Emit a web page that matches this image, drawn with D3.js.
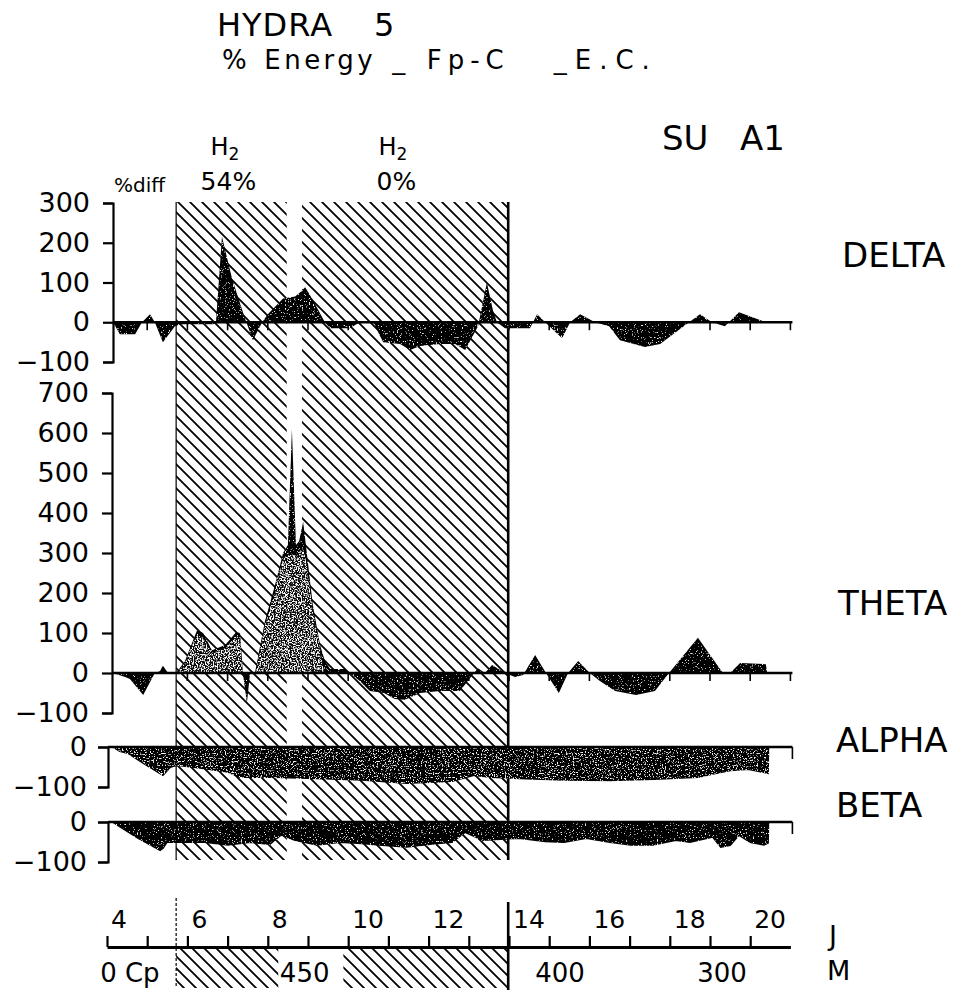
<!DOCTYPE html>
<html><head><meta charset="utf-8">
<script src="https://cdn.jsdelivr.net/npm/d3@7"></script>
<style>
body{margin:0;background:#fff}
svg{display:block}
text{font-family:"DejaVu Sans",sans-serif;fill:#000}
</style></head>
<body><svg id="c" width="961" height="1001"></svg>
<script>
// ---------------- data (days on x, % difference on y) ----------------
const deltaDays = [4.15,4.32,4.70,4.87,5.07,5.19,5.39,5.69,5.82,6.64,6.71,6.86,7.11,7.43,7.63,7.86,8.00,8.38,8.68,8.80,8.93,9.10,9.42,9.55,10.04,10.29,10.62,10.87,11.29,11.54,11.79,12.28,12.66,12.91,13.23,13.35,13.45,13.60,13.70,13.90,14.52,14.70,14.90,15.32,15.52,15.77,16.14,16.49,16.76,17.38,17.76,18.48,18.75,19.05,19.37,19.72,20.39];
const deltaValues = [0,-30,-30,0,20,0,-50,-10,-5,-5,0,215,110,10,-45,0,20,60,65,75,88,60,0,-15,-15,0,0,-50,-55,-70,-60,-55,-55,-70,-10,50,100,30,0,-15,-15,20,0,-40,0,20,0,-10,-45,-62,-55,0,20,0,-10,25,0];

const thetaDays = [4.15,4.45,4.57,4.90,5.19,5.32,5.39,5.52,5.72,5.94,6.24,6.39,6.61,6.94,7.21,7.31,7.38,7.48,7.56,7.68,7.93,8.18,8.38,8.50,8.60,8.70,8.78,8.88,8.97,9.12,9.30,9.42,9.55,9.92,10.04,10.29,10.54,10.89,11.16,11.41,11.79,12.28,12.78,13.13,13.23,13.40,13.58,13.90,14.15,14.35,14.65,14.92,15.24,15.47,15.72,16.01,16.26,16.64,17.16,17.63,17.98,18.70,19.32,19.50,19.75,20.39,20.42];
const thetaValues = [0,-10,-15,-55,0,5,18,0,0,30,107,100,57,70,102,100,0,-75,0,0,130,220,300,320,610,320,330,378,300,170,70,30,10,10,0,-20,-45,-50,-65,-67,-50,-45,-45,0,12,0,20,0,-10,-5,45,0,-50,0,30,0,-20,-45,-55,-45,0,88,0,0,25,22,0];

// stippled (grey) body of the theta peaks under H2
const thetaCoreDays = [5.74,5.94,6.24,6.39,6.61,6.94,7.21,7.31,7.36,7.70,7.93,8.18,8.38,8.53,8.68,8.80,8.88,8.95,9.12,9.30,9.40];
const thetaCoreValues = [0,25,95,88,50,62,92,88,0,0,118,205,285,295,295,305,310,280,155,60,0];

const alphaDays = [4.15,4.32,4.52,4.90,5.39,5.57,5.74,6.31,7.01,7.31,8.10,9.22,10.34,11.46,12.58,13.13,13.53,14.25,15.37,16.49,17.61,18.70,19.07,19.50,19.95,20.44,20.45];
const alphaValues = [0,-10,-15,-40,-70,-50,-45,-52,-62,-75,-75,-78,-82,-90,-85,-70,-75,-78,-82,-83,-80,-75,-67,-58,-55,-65,0];

const betaDays = [4.15,4.27,4.77,5.32,5.39,5.49,6.44,7.01,7.56,8.05,8.33,8.68,9.22,9.80,10.34,10.92,11.46,12.03,12.58,12.91,13.35,14.25,14.90,15.37,15.92,16.51,17.03,17.58,18.15,18.50,19.07,19.27,19.50,19.72,20.00,20.34,20.44,20.45];
const betaValues = [0,-8,-40,-70,-65,-50,-50,-57,-50,-55,-32,-45,-57,-50,-53,-58,-62,-55,-50,-25,-45,-40,-48,-50,-40,-50,-57,-57,-45,-50,-37,-62,-58,-32,-50,-57,-52,0];

const h2Periods = [[5.72, 8.47], [8.85, 13.98]];
const h2Labels = [{day: 7.02, sub: "54%"}, {day: 11.2, sub: "0%"}];

const deltaTicks = [300, 200, 100, 0, -100];
const thetaTicks = [700, 600, 500, 400, 300, 200, 100, 0, -100];
const bandTicks = [0, -100];
const dayTicks = d3.range(4, 21);
const dayLabels = [4, 6, 8, 10, 12, 14, 16, 18, 20];
const depthLabels = [{day: 3.83, text: "0 Cp"}, {day: 8.30, text: "450"}, {day: 14.65, text: "400"}, {day: 18.68, text: "300"}];
const subtitleParts = ["%", "Energy", "_", "Fp-C", "_E.C."];

// ---------------- scales ----------------
const x = d3.scaleLinear([4, 21], [107, 790.4]);
const yDelta = d3.scaleLinear([-100, 300], [362, 203]);
const yTheta = d3.scaleLinear([-100, 700], [713, 393]);
const yAlpha = d3.scaleLinear([-100, 0], [787, 747]);
const yBeta  = d3.scaleLinear([-100, 0], [862, 822]);

const svg = d3.select("#c");
const defs = svg.append("defs");
const pat = defs.append("pattern").attr("id", "hatch").attr("patternUnits", "userSpaceOnUse")
  .attr("width", 12).attr("height", 12);
pat.append("path").attr("d", "M-3,-3 L15,15 M-3,9 L3,15 M9,-3 L15,3")
  .attr("stroke", "#000").attr("stroke-width", 1.8).attr("fill", "none");

function stipple(id, k, b, seed) {
  const f = defs.append("filter").attr("id", id);
  f.append("feTurbulence").attr("type", "fractalNoise").attr("baseFrequency", 0.75)
    .attr("numOctaves", 2).attr("seed", seed).attr("result", "n");
  f.append("feColorMatrix").attr("in", "n").attr("type", "matrix")
    .attr("values", `0 0 0 0 1  0 0 0 0 1  0 0 0 0 1  ${k} 0 0 0 ${b}`).attr("result", "w");
  f.append("feComposite").attr("in", "w").attr("in2", "SourceAlpha").attr("operator", "in").attr("result", "wi");
  const m = f.append("feMerge");
  m.append("feMergeNode").attr("in", "SourceGraphic");
  m.append("feMergeNode").attr("in", "wi");
}
stipple("stLight", 7, -3.4, 3);
stipple("stDark", 7, -4.1, 5);
stipple("stFaint", 7, -4.5, 9);

// ---------------- hatched H2 periods ----------------
const hatchTop = 202, hatchBottom = 860;
svg.append("g").selectAll("rect").data(h2Periods).join("rect")
  .attr("x", d => x(d[0])).attr("width", d => x(d[1]) - x(d[0]))
  .attr("y", hatchTop).attr("height", hatchBottom - hatchTop)
  .attr("fill", "url(#hatch)");
const startX = x(h2Periods[0][0]), endX = x(h2Periods[1][1]);
svg.append("line").attr("x1", startX).attr("x2", startX).attr("y1", hatchTop).attr("y2", hatchBottom)
  .attr("stroke", "#000").attr("stroke-width", 1.2);
svg.append("line").attr("x1", endX).attr("x2", endX).attr("y1", hatchTop).attr("y2", hatchBottom)
  .attr("stroke", "#000").attr("stroke-width", 2.6);

// ---------------- areas ----------------
function areaPath(days, vals, y) {
  const pts = days.map((d, i) => ({d, v: vals[i]}));
  return d3.area().x(p => x(p.d)).y0(y(0)).y1(p => y(p.v))(pts);
}
svg.append("path").attr("d", areaPath(deltaDays, deltaValues, yDelta)).attr("fill", "#000")
  .attr("filter", "url(#stFaint)");
svg.append("path").attr("d", areaPath(thetaDays, thetaValues, yTheta)).attr("fill", "#000")
  .attr("filter", "url(#stFaint)");
svg.append("path").attr("d", areaPath(thetaCoreDays, thetaCoreValues, yTheta)).attr("fill", "#111")
  .attr("filter", "url(#stLight)");
svg.append("path").attr("d", areaPath(alphaDays, alphaValues, yAlpha)).attr("fill", "#000")
  .attr("stroke", "#000").attr("stroke-width", 2).attr("filter", "url(#stDark)");
svg.append("path").attr("d", areaPath(betaDays, betaValues, yBeta)).attr("fill", "#000")
  .attr("stroke", "#000").attr("stroke-width", 2).attr("filter", "url(#stFaint)");

// ---------------- y axes ----------------
function yAxis(y, ticks, ax, pad) {
  const g = svg.append("g").attr("transform", `translate(${ax},0)`)
    .call(d3.axisLeft(y).tickValues(ticks).tickSize(10).tickPadding(pad).tickFormat(d => d === 0 ? "0" : (d < 0 ? "\u2212" + (-d) : d)));
  g.attr("font-family", null).attr("font-size", null);
  g.selectAll("path,line").attr("stroke", "#000").attr("stroke-width", 2.2);
  g.selectAll("text").attr("font-size", 27).attr("font-family", "DejaVu Sans").attr("fill", "#000");
}
yAxis(yDelta, deltaTicks, 113, 13);
yAxis(yTheta, thetaTicks, 112, 13);
yAxis(yAlpha, bandTicks, 108, 11);
yAxis(yBeta, bandTicks, 108, 11);

// ---------------- zero lines with day ticks ----------------
function zeroLine(y, ax, ticks, tl) {
  const g = svg.append("g");
  g.append("line").attr("x1", ax).attr("x2", x(21.05)).attr("y1", y(0)).attr("y2", y(0))
    .attr("stroke", "#000").attr("stroke-width", 2.4);
  g.selectAll("line.t").data(ticks).join("line").attr("class", "t")
    .attr("x1", d => x(d)).attr("x2", d => x(d)).attr("y1", y(0)).attr("y2", y(0) + tl)
    .attr("stroke", "#000").attr("stroke-width", 1.6);
}
zeroLine(yDelta, 113, d3.range(5, 22), 8);
zeroLine(yTheta, 112, d3.range(5, 22), 8);
zeroLine(yAlpha, 108, [21.05], 12);
zeroLine(yBeta, 108, [21.05], 12);

// ---------------- bottom time / depth axis ----------------
const axY = 947;
svg.append("rect").attr("x", startX).attr("width", endX - startX).attr("y", axY + 1).attr("height", 40)
  .attr("fill", "url(#hatch)");
svg.append("rect").attr("x", x(8.26)).attr("width", x(9.88) - x(8.26)).attr("y", axY + 2).attr("height", 40)
  .attr("fill", "#fff");
const bax = svg.append("g").attr("transform", `translate(0,${axY})`)
  .call(d3.axisTop(x).tickValues(dayTicks).tickSize(11).tickSizeOuter(0).tickFormat(""));
bax.selectAll("path,line").attr("stroke", "#000").attr("stroke-width", 2.2);
bax.select("path").attr("stroke-width", 3);
svg.append("g").selectAll("text").data(dayLabels).join("text")
  .attr("x", d => x(d) + 4).attr("y", 928).attr("font-size", 25).text(d => d);
svg.append("g").selectAll("text").data(depthLabels).join("text")
  .attr("x", d => x(d.day)).attr("y", 982).attr("font-size", 26).text(d => d.text);
svg.append("line").attr("x1", startX).attr("x2", startX).attr("y1", 898).attr("y2", 988)
  .attr("stroke", "#000").attr("stroke-width", 1.2).attr("stroke-dasharray", "3,2");
svg.append("line").attr("x1", endX).attr("x2", endX).attr("y1", 902).attr("y2", 990)
  .attr("stroke", "#000").attr("stroke-width", 2.6);
svg.append("text").attr("x", 829).attr("y", 945).attr("font-size", 27).text("J");
svg.append("text").attr("x", 827).attr("y", 980).attr("font-size", 27).text("M");

// ---------------- titles and labels ----------------
svg.append("text").attr("x", 217).attr("y", 36).attr("font-size", 32).attr("letter-spacing", 1).text("HYDRA");
svg.append("text").attr("x", 374).attr("y", 36).attr("font-size", 32).text("5");
const sub = svg.append("text").attr("x", 222).attr("y", 69).attr("font-size", 26);
const gaps = [0, 14, 16, 18, 44];
const spacing = [3.5, 3.5, 3.5, 6, 8];
sub.selectAll("tspan").data(subtitleParts).join("tspan")
  .attr("dx", (d, i) => gaps[i]).attr("letter-spacing", (d, i) => spacing[i]).text(d => d);
svg.append("text").attr("x", 662).attr("y", 150).attr("font-size", 34).text("SU");
svg.append("text").attr("x", 740).attr("y", 150).attr("font-size", 34).text("A1");

const bandNames = [{t: "DELTA", x: 842, y: 267}, {t: "THETA", x: 838, y: 615}, {t: "ALPHA", x: 836, y: 752}, {t: "BETA", x: 836, y: 817}];
svg.append("g").selectAll("text").data(bandNames).join("text")
  .attr("x", d => d.x).attr("y", d => d.y).attr("font-size", 34).text(d => d.t);

const h2g = svg.append("g").selectAll("g").data(h2Labels).join("g");
h2g.append("text").attr("x", d => x(d.day) - 18).attr("y", 155).attr("font-size", 24)
  .text("H").append("tspan").attr("font-size", 17).attr("dy", 5).text("2");
h2g.append("text").attr("x", d => x(d.day)).attr("y", 190).attr("font-size", 25)
  .attr("text-anchor", "middle").text(d => d.sub);
svg.append("text").attr("x", 114).attr("y", 192).attr("font-size", 20).text("%diff");
</script></body></html>
